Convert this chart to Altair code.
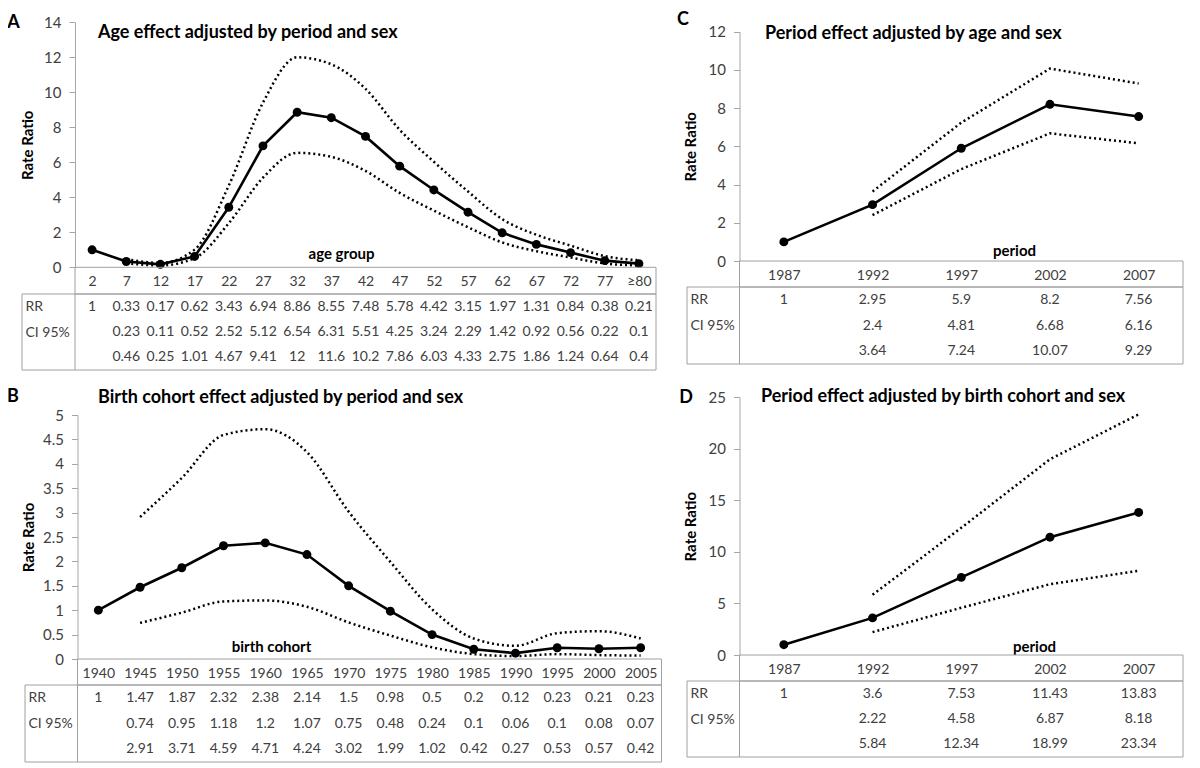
import json
import altair as alt
import pandas as pd

# ---------------- data ----------------
age_groups = ["2", "7", "12", "17", "22", "27", "32", "37", "42", "47", "52", "57", "62", "67", "72", "77", "≥80"]
age_rr = [1, 0.33, 0.17, 0.62, 3.43, 6.94, 8.86, 8.55, 7.48, 5.78, 4.42, 3.15, 1.97, 1.31, 0.84, 0.38, 0.21]
age_lo = [None, 0.23, 0.11, 0.52, 2.52, 5.12, 6.54, 6.31, 5.51, 4.25, 3.24, 2.29, 1.42, 0.92, 0.56, 0.22, 0.1]
age_hi = [None, 0.46, 0.25, 1.01, 4.67, 9.41, 12, 11.6, 10.2, 7.86, 6.03, 4.33, 2.75, 1.86, 1.24, 0.64, 0.4]
age_ticks = [0, 2, 4, 6, 8, 10, 12, 14]

cohorts = ["1940", "1945", "1950", "1955", "1960", "1965", "1970", "1975", "1980", "1985", "1990", "1995", "2000", "2005"]
cohort_rr = [1, 1.47, 1.87, 2.32, 2.38, 2.14, 1.5, 0.98, 0.5, 0.2, 0.12, 0.23, 0.21, 0.23]
cohort_lo = [None, 0.74, 0.95, 1.18, 1.2, 1.07, 0.75, 0.48, 0.24, 0.1, 0.06, 0.1, 0.08, 0.07]
cohort_hi = [None, 2.91, 3.71, 4.59, 4.71, 4.24, 3.02, 1.99, 1.02, 0.42, 0.27, 0.53, 0.57, 0.42]
cohort_ticks = [0, 0.5, 1, 1.5, 2, 2.5, 3, 3.5, 4, 4.5, 5]

periods = ["1987", "1992", "1997", "2002", "2007"]
period_age_rr = [1, 2.95, 5.9, 8.2, 7.56]
period_age_lo = [None, 2.4, 4.81, 6.68, 6.16]
period_age_hi = [None, 3.64, 7.24, 10.07, 9.29]
period_age_ticks = [0, 2, 4, 6, 8, 10, 12]

period_coh_rr = [1, 3.6, 7.53, 11.43, 13.83]
period_coh_lo = [None, 2.22, 4.58, 6.87, 8.18]
period_coh_hi = [None, 5.84, 12.34, 18.99, 23.34]
period_coh_ticks = [0, 5, 10, 15, 20, 25]

row_keys = ["rr", "lo", "hi"]
row_labels = ["RR", "CI 95%", ""]

# ---------------- layout / style ----------------
M = 8            # page margin
W, H = 1184, 760
FONT = "Lato"
TXT = "#404040"
AX = "#a6a6a6"
BORDER = "#a0a0a0"

GA = dict(x0=75, x1=656, ytop=22.3, y0=267.3, hb=294, tb=370, tleft=22,
          letter=(13.5, 22.5), title=(98, 33), xtitle=(341, 253), ytx=27)
GB = dict(x0=77.5, x1=661.5, ytop=415, y0=659, hb=685, tb=762, tleft=25,
          letter=(13, 397), title=(98, 398), xtitle=(271, 646), ytx=28)
GC = dict(x0=739.5, x1=1183, ytop=31.7, y0=261, hb=287, tb=364, tleft=687,
          letter=(683, 20), title=(765, 34), xtitle=(1014, 250), ytx=690)
GD = dict(x0=739.5, x1=1183, ytop=397.3, y0=655, hb=681, tb=757, tleft=687,
          letter=(686, 398), title=(761, 397), xtitle=(1034, 646), ytx=690)

DUMMY = alt.Data(values=[{"k": 0}])


def panel(cats, rr, lo, hi, yticks, g, xtitle, smooth):
    n = len(cats)
    interp = "monotone" if smooth else "linear"
    xsc = alt.Scale(type="linear", domain=[-0.5, n - 0.5],
                    range=[g["x0"] - M, g["x1"] - M], nice=False, zero=False)
    ysc = alt.Scale(type="linear", domain=[yticks[0], yticks[-1]],
                    range=[g["y0"] - M, g["ytop"] - M], nice=False, zero=False)
    label_expr = json.dumps(cats, ensure_ascii=False) + "[datum.value]"
    xaxis = alt.Axis(orient="bottom", offset=-(H - (g["y0"] - M)),
                     values=list(range(n)), labelExpr=label_expr,
                     ticks=False, domain=False, grid=False,
                     labelPadding=7, labelFont=FONT, labelFontSize=14, labelColor=TXT,
                     labelOverlap=False, labelFlush=False, labelBound=False,
                     title=xtitle, titleX=g["xtitle"][0] - M,
                     titleY=g["xtitle"][1] - g["y0"], titleAlign="center",
                     titleBaseline="middle", titleFont=FONT, titleFontSize=15,
                     titleFontWeight="bold", titleColor="#000000")
    yaxis = alt.Axis(orient="left", offset=-(g["x0"] - M), values=yticks, format="~g",
                     grid=False, domainColor=AX, tickColor=AX, tickSize=6,
                     labelPadding=8, labelFont=FONT, labelFontSize=15, labelColor=TXT,
                     title="Rate Ratio", titleX=g["ytx"] - g["x0"], titleAngle=-90,
                     titleBaseline="middle", titleFont=FONT, titleFontSize=15,
                     titleFontWeight="bold", titleColor="#000000")

    line_df = pd.DataFrame({"idx": list(range(n)), "rr": rr, "lo": lo, "hi": hi})
    ci_df = line_df.dropna()

    hi_l = alt.Chart(ci_df).mark_line(color="black", strokeWidth=2.5, strokeDash=[2, 3],
                                      interpolate=interp).encode(
        x=alt.X("idx:Q", scale=xsc, axis=xaxis),
        y=alt.Y("hi:Q", scale=ysc, axis=yaxis))
    lo_l = alt.Chart(ci_df).mark_line(color="black", strokeWidth=2.5, strokeDash=[2, 3],
                                      interpolate=interp).encode(
        x=alt.X("idx:Q", scale=xsc, axis=None),
        y=alt.Y("lo:Q", scale=ysc, axis=None))
    rr_l = alt.Chart(line_df).mark_line(color="black", strokeWidth=2.6).encode(
        x=alt.X("idx:Q", scale=xsc, axis=None),
        y=alt.Y("rr:Q", scale=ysc, axis=None))
    rr_p = alt.Chart(line_df).mark_circle(size=80, color="black", opacity=1).encode(
        x=alt.X("idx:Q", scale=xsc, axis=None),
        y=alt.Y("rr:Q", scale=ysc, axis=None))

    recs = []
    for key, arr in zip(row_keys, [rr, lo, hi]):
        for i, v in enumerate(arr):
            if v is not None:
                recs.append({"idx": i, "row": key, "v": v})
    tab_df = pd.DataFrame(recs)
    rsc = alt.Scale(type="point", domain=row_keys,
                    range=[g["hb"] - M, g["tb"] - M], padding=0.5)
    row_expr = ("{" + ",".join(f"{json.dumps(k)}:{json.dumps(l)}"
                               for k, l in zip(row_keys, row_labels)) + "}[datum.value]")
    rowaxis = alt.Axis(orient="left", offset=-(g["tleft"] - M), ticks=False, domain=False,
                       grid=False, labelAlign="left", labelBaseline="middle",
                       labelPadding=-3, labelExpr=row_expr, labelFont=FONT,
                       labelFontSize=14, labelColor=TXT, title=None)
    table = alt.Chart(tab_df).mark_text(font=FONT, fontSize=14, color=TXT).encode(
        x=alt.X("idx:Q", scale=xsc, axis=None),
        y=alt.Y("row:N", scale=rsc, axis=rowaxis),
        text=alt.Text("v:Q", format="~g"))

    return [hi_l, lo_l, rr_l, rr_p, table]


def decor(g, letter, title):
    parts = []
    # header row box
    parts.append(alt.Chart(DUMMY).mark_rect(fillOpacity=0, stroke=BORDER, strokeWidth=1).encode(
        x=alt.value(g["x0"] - M), x2=alt.value(g["x1"] - M),
        y=alt.value(g["y0"] - M), y2=alt.value(g["hb"] - M)))
    # data rows box
    parts.append(alt.Chart(DUMMY).mark_rect(fillOpacity=0, stroke=BORDER, strokeWidth=1).encode(
        x=alt.value(g["tleft"] - M), x2=alt.value(g["x1"] - M),
        y=alt.value(g["hb"] - M), y2=alt.value(g["tb"] - M)))
    # divider between row labels and values
    parts.append(alt.Chart(DUMMY).mark_rule(color=BORDER, strokeWidth=1).encode(
        x=alt.value(g["x0"] - M), y=alt.value(g["hb"] - M), y2=alt.value(g["tb"] - M)))
    # panel letter
    parts.append(alt.Chart(DUMMY).mark_text(text=letter, font=FONT, fontSize=18,
                                            fontWeight="bold", color="#000000",
                                            align="center", baseline="middle").encode(
        x=alt.value(g["letter"][0] - M), y=alt.value(g["letter"][1] - M)))
    # panel title
    parts.append(alt.Chart(DUMMY).mark_text(text=title, font=FONT, fontSize=18,
                                            fontWeight="bold", color="#000000",
                                            align="left", baseline="middle").encode(
        x=alt.value(g["title"][0] - M), y=alt.value(g["title"][1] - M)))
    return parts


layers = []
layers += panel(age_groups, age_rr, age_lo, age_hi, age_ticks, GA, "age group", True)
layers += panel(cohorts, cohort_rr, cohort_lo, cohort_hi, cohort_ticks, GB, "birth cohort", True)
layers += panel(periods, period_age_rr, period_age_lo, period_age_hi, period_age_ticks, GC, "period", False)
layers += panel(periods, period_coh_rr, period_coh_lo, period_coh_hi, period_coh_ticks, GD, "period", False)
layers += decor(GA, "A", "Age effect adjusted by period and sex")
layers += decor(GB, "B", "Birth cohort effect adjusted by period and sex")
layers += decor(GC, "C", "Period effect adjusted by  age and sex")
layers += decor(GD, "D", "Period effect adjusted by birth cohort and sex")

chart = alt.layer(*layers).resolve_scale(x="independent", y="independent").properties(
    width=W, height=H, autosize=alt.AutoSizeParams(type="none"), padding=0,
    background="white"
).configure_view(stroke=None)

chart.save("out.html", embed_options={"renderer": "svg", "actions": False})
